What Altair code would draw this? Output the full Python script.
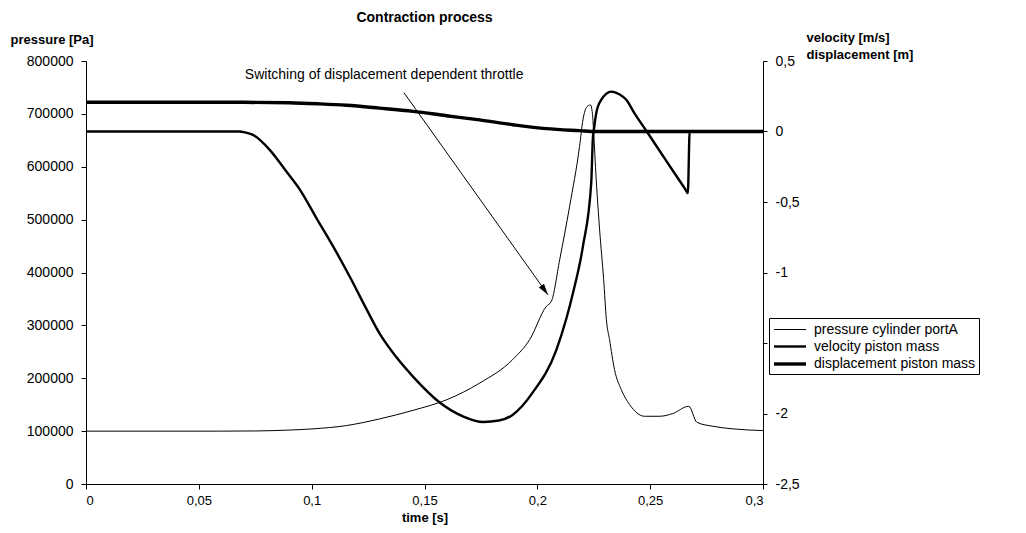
import altair as alt
import pandas as pd

FONT = "Liberation Sans"

# ---- data ----
series_names = ["pressure cylinder portA", "velocity piston mass", "displacement piston mass"]

p_time = [0.0, 0.06, 0.075, 0.09, 0.1006, 0.1154, 0.130, 0.145, 0.160, 0.1745, 0.189, 0.1966,
          0.204, 0.2062, 0.2099, 0.2143, 0.2187, 0.2202, 0.222, 0.2235, 0.2244, 0.2249, 0.2261,
          0.2276, 0.2294, 0.2306, 0.232, 0.2342, 0.2372, 0.2409, 0.2475, 0.2542, 0.260, 0.2671,
          0.2707, 0.2778, 0.2866, 0.300]
p_value = [100000, 100000, 100300, 102000, 104300, 110500, 123000, 139400, 159600, 191000, 235000, 273000,
           336000, 345300, 424000, 524800, 638100, 688500, 713600, 716900, 701200, 669600, 575200,
           480700, 386300, 310700, 273000, 216300, 178500, 150200, 128100, 128100, 133200, 147000,
           116700, 109200, 104300, 101000]

v_time = [0.0, 0.068, 0.0705, 0.074, 0.0814, 0.0888, 0.0947, 0.1021, 0.1095, 0.1169, 0.1243, 0.130,
          0.1375, 0.145, 0.1566, 0.167, 0.176, 0.183, 0.189, 0.198, 0.2084, 0.2128, 0.2158, 0.2202,
          0.2239, 0.2246, 0.2252, 0.2261, 0.2283, 0.2328, 0.2365, 0.2394, 0.2430, 0.2485, 0.257,
          0.2655, 0.2667, 0.2675, 0.300]
v_value = [0.0, 0.0, -0.006, -0.024, -0.13, -0.284, -0.41, -0.614, -0.815, -1.03, -1.26, -1.43,
           -1.60, -1.74, -1.92, -2.02, -2.06, -2.05, -2.01, -1.85, -1.55, -1.33, -1.145, -0.815,
           -0.36, -0.05, 0.03, 0.13, 0.224, 0.283, 0.262, 0.225, 0.13, 0.0, -0.205,
           -0.408, -0.437, 0.0, 0.0]

d_time = [0.0, 0.07, 0.09, 0.1035, 0.1154, 0.130, 0.145, 0.1597, 0.1744, 0.1892, 0.204, 0.2187, 0.226, 0.300]
d_value = [0.207, 0.207, 0.204, 0.196, 0.186, 0.166, 0.143, 0.112, 0.082, 0.048, 0.020, 0.006, 0.0, 0.0]

x_ticks = [0, 0.05, 0.1, 0.15, 0.2, 0.25, 0.3]
left_ticks = [0, 100000, 200000, 300000, 400000, 500000, 600000, 700000, 800000]
right_ticks = [-2.5, -2, -1.5, -1, -0.5, 0, 0.5]

note_text = ["Switching of displacement dependent throttle"]
note_pos_t = [0.0704]
note_pos_p = [773500]
arrow_t = [0.1409, 0.2047]
arrow_p = [740100, 358000]

# ---- tables ----
df_p = pd.DataFrame({"t": p_time, "val": p_value, "series": series_names[0]})
df_r = pd.concat([
    pd.DataFrame({"t": v_time, "val": v_value, "series": series_names[1]}),
    pd.DataFrame({"t": d_time, "val": d_value, "series": series_names[2]}),
], ignore_index=True)
df_note = pd.DataFrame({"t": note_pos_t, "val": note_pos_p, "label": note_text})
df_arrow = pd.DataFrame({"t": arrow_t, "val": arrow_p})
df_head = df_arrow.iloc[[1]]

comma = "replace(replace(format(datum.value, '.2~f'), '.', ','), '\u2212', '-')"

x_scale = alt.Scale(domain=[0, 0.3], nice=False, zero=False)
x_axis = alt.Axis(values=x_ticks, labelExpr=comma, title="time [s]", grid=False,
                  tickSize=5, labelPadding=5, titlePadding=4, labelFontSize=13)
xenc = alt.X("t:Q", scale=x_scale, axis=x_axis)

left_scale = alt.Scale(domain=[0, 800000], nice=False)
left_axis = alt.Axis(values=left_ticks, format="d", title="pressure [Pa]", grid=False,
                     orient="left", tickSize=5, labelPadding=8,
                     titleAngle=0, titleAlign="left", titleBaseline="middle",
                     titleX=-76, titleY=-22)
yleft = alt.Y("val:Q", scale=left_scale, axis=left_axis)

sw = alt.StrokeWidth(
    "series:N",
    scale=alt.Scale(type="ordinal", domain=series_names, range=[1, 2.4, 3.4]),
    legend=alt.Legend(title=None, orient="none", legendX=683, legendY=257,
                      symbolType="M-2,0H2", symbolSize=256, symbolStrokeColor="black",
                      symbolOffset=8, labelOffset=14, labelLimit=0,
                      labelFont=FONT, labelFontSize=14, labelColor="black",
                      strokeColor="black", fillColor="white", padding=3,
                      rowPadding=0),
)

pressure = alt.Chart(df_p).mark_line(color="black", interpolate="monotone").encode(
    x=xenc, y=yleft, strokeWidth=sw)
note = alt.Chart(df_note).mark_text(align="left", baseline="middle", font=FONT,
                                    fontSize=14, color="black").encode(
    x=xenc, y=yleft, text="label:N")
arrow = alt.Chart(df_arrow).mark_line(color="black", strokeWidth=1).encode(x=xenc, y=yleft)
head = alt.Chart(df_head).mark_point(shape="M0,0L-0.28,1L0.28,1Z", filled=True, color="black",
                                     opacity=1, size=500, angle=144.5).encode(x=xenc, y=yleft)

left_layer = alt.layer(pressure, arrow, head, note)

right_scale = alt.Scale(domain=[-2.5, 0.5], nice=False, zero=False)
right_axis = alt.Axis(values=right_ticks, labelExpr=comma, grid=False, orient="right",
                      title=["velocity [m/s]", "displacement [m]"], tickSize=4, labelPadding=8,
                      titleAngle=0, titleAlign="left", titleBaseline="top",
                      titleX=43, titleY=-30, titleLineHeight=17)
right_layer = alt.Chart(df_r).mark_line(color="black", interpolate="monotone").encode(
    x=xenc, y=alt.Y("val:Q", scale=right_scale, axis=right_axis), strokeWidth=sw,
    detail="series:N")

chart = alt.layer(left_layer, right_layer).resolve_scale(y="independent").properties(
    width=677, height=423,
    title=alt.TitleParams("Contraction process", font=FONT, fontSize=14, fontWeight="bold",
                          color="black", anchor="middle", offset=6),
    autosize=alt.AutoSizeParams(type="none"),
    padding={"left": 78, "top": 53, "right": 254, "bottom": 44},
).configure_view(stroke=None).configure_axis(
    labelFont=FONT, labelFontSize=14, labelColor="black",
    titleFont=FONT, titleFontSize=13, titleFontWeight="bold", titleColor="black",
    domainColor="black", tickColor="black", domainWidth=1, tickWidth=1,
)

chart.save("out.html", embed_options={"renderer": "svg", "actions": False})
